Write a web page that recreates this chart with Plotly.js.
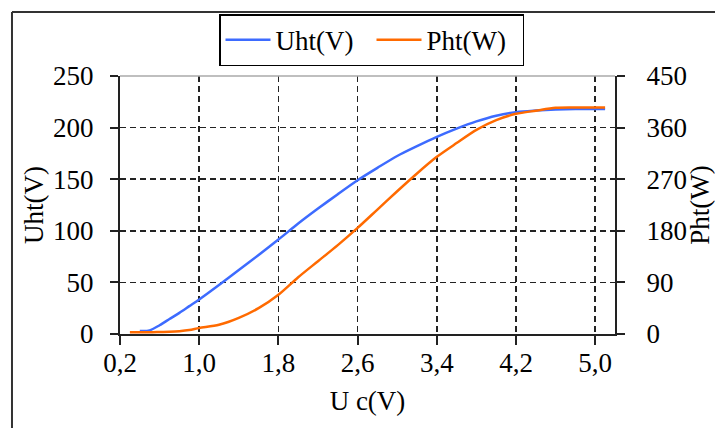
<!DOCTYPE html>
<html>
<head>
<meta charset="utf-8">
<script src="https://cdn.plot.ly/plotly-3.0.1.min.js"></script>
<style>html,body{margin:0;padding:0;background:#fff;}#chart{width:715px;height:428px;}</style>
</head>
<body>
<div id="chart"></div>
<script>
// Control voltage Uc (V)
var uc = [0.3, 0.4, 0.5, 0.6, 0.7, 0.8, 0.9, 1.0, 1.2, 1.4, 1.6, 1.8, 2.0, 2.2, 2.4, 2.6, 2.8, 3.0, 3.2, 3.4, 3.6, 3.8, 4.0, 4.2, 4.4, 4.6, 4.8, 5.0, 5.1];
// Uht (V) - left axis
var uht = [null, 3, 3.5, 8.5, 14.5, 20.5, 27, 33.5, 47.5, 62, 76.5, 91.5, 107, 121.5, 135.5, 149, 161, 172.5, 182, 191, 199, 206, 211.5, 215, 216.5, 217.5, 218, 218, 218];
// Pht (W) - right axis
var pht = [3, 3, 3, 3.5, 4, 5, 7, 10.5, 16, 28, 45, 68.5, 99, 127, 155, 185, 217, 249, 280, 309, 333, 356, 373, 384, 389.5, 394.5, 395, 395, 395];

var F = "'Liberation Serif', 'Times New Roman', serif";
var FS = 27;

var traces = [
  {x: uc, y: uht, name: 'Uht(V)', type: 'scatter', mode: 'lines',
   line: {color: '#3d6bff', width: 2.5, shape: 'spline', smoothing: 0.8}, yaxis: 'y'},
  {x: uc, y: pht, name: 'Pht(W)', type: 'scatter', mode: 'lines',
   line: {color: '#ff6a00', width: 2.5, shape: 'spline', smoothing: 0.8}, yaxis: 'y2'}
];

var layout = {
  width: 715, height: 428,
  margin: {l: 120, r: 100, t: 76, b: 94, pad: 0},
  paper_bgcolor: '#fff', plot_bgcolor: '#fff',
  separators: ', ',
  font: {family: F, size: FS, color: '#000'},
  showlegend: true,
  legend: {orientation: 'h', x: 0.2, y: 1.24, xanchor: 'left', yanchor: 'top',
           bordercolor: '#000', borderwidth: 1.5, bgcolor: '#fff',
           font: {family: F, size: FS, color: '#000'}, itemwidth: 45,
           entrywidth: 91, entrywidthmode: 'pixels', tracegroupgap: 0},
  xaxis: {range: [0.2, 5.2], tick0: 0.2, dtick: 0.8, tickformat: '.1f',
          showline: true, linecolor: '#222', linewidth: 2,
          ticks: 'outside', ticklen: 9, tickwidth: 2, tickcolor: '#222',
          showgrid: true, gridcolor: '#222', gridwidth: 1.5, griddash: '6px,4px',
          zeroline: false, ticklabelstandoff: -5,
          tickfont: {family: F, size: FS, color: '#000'},
          title: {text: 'U c(V)', font: {family: F, size: FS, color: '#000'}, standoff: 14}},
  yaxis: {range: [0, 250], dtick: 50, showline: true, linecolor: '#222', linewidth: 2,
          ticks: 'outside', ticklen: 8, tickwidth: 2, tickcolor: '#222',
          showgrid: true, gridcolor: '#222', gridwidth: 1.5, griddash: '6px,4px',
          zeroline: false, ticklabelstandoff: 11,
          tickfont: {family: F, size: FS, color: '#000'},
          title: {text: 'Uht(V)', font: {family: F, size: FS, color: '#000'}, standoff: 2}},
  yaxis2: {range: [0, 450], dtick: 90, overlaying: 'y', side: 'right',
           showline: true, linecolor: '#222', linewidth: 2,
           ticks: 'outside', ticklen: 8, tickwidth: 2, tickcolor: '#222',
           showgrid: false, zeroline: false, ticklabelstandoff: 16,
           tickfont: {family: F, size: FS, color: '#000'},
           title: {text: 'Pht(W)', font: {family: F, size: FS, color: '#000'}, standoff: 0}},
  shapes: [
    {type: 'line', xref: 'paper', yref: 'paper', x0: 0, x1: 1, y0: 1, y1: 1,
     line: {color: '#aaa', width: 1.5}},
    {type: 'line', xref: 'paper', yref: 'paper', x0: -0.2182, x1: -0.2182, y0: -0.37, y1: 1.248,
     line: {color: '#333', width: 2}},
    {type: 'line', xref: 'paper', yref: 'paper', x0: -0.2182, x1: 1.21, y0: 1.248, y1: 1.248,
     line: {color: '#333', width: 2}}
  ]
};

Plotly.newPlot('chart', traces, layout, {displayModeBar: false, staticPlot: true});
</script>
</body>
</html>
